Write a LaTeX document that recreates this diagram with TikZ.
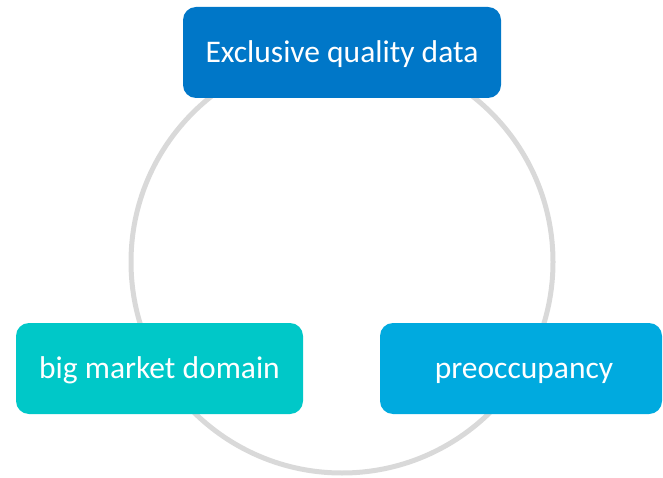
\documentclass[tikz,border=0pt]{standalone}
\usepackage{fontspec}
\setmainfont{Carlito}
\begin{document}
\begin{tikzpicture}[x=1pt,y=-1pt,
  boxstyle/.style={rounded corners=13pt, text=white, inner sep=0pt,
    minimum height=91pt, font=\fontsize{31.5}{34}\selectfont,
    text height=20.5pt, text depth=0pt},
  ring/.style={draw=black!15, line width=5pt}]
\useasboundingbox (0,0) rectangle (663,478);
\definecolor{topblue}{HTML}{0077C8}
\definecolor{teal}{HTML}{00C8C8}
\definecolor{skyblue}{HTML}{00AADF}
\coordinate (c) at (342,262);
\draw[ring] (c) circle[radius=211];
\node[boxstyle, fill=topblue, minimum width=318pt] (top) at (342,52.5) {Exclusive quality data};
\node[boxstyle, fill=teal, minimum width=287pt] (left) at (159.5,368.5) {big market domain};
\node[boxstyle, fill=skyblue, minimum width=282pt] (right) at (521,368.5) {\hspace{6pt}preoccupancy};
\end{tikzpicture}
\end{document}
